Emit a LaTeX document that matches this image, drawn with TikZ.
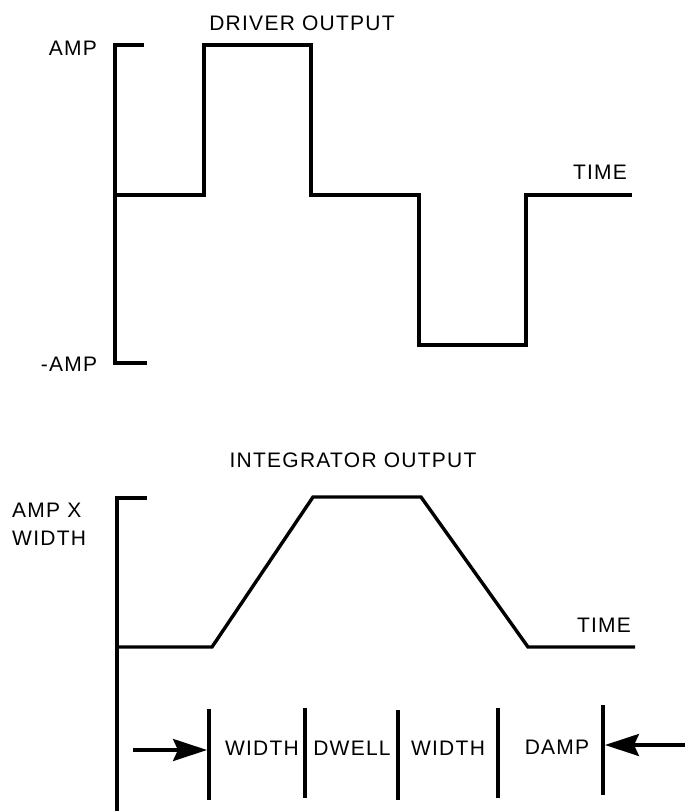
\documentclass[tikz,border=0pt]{standalone}
\usepackage{fontspec}
\setmainfont{Liberation Sans}[LetterSpace=6]
\usetikzlibrary{arrows.meta}
\begin{document}
\begin{tikzpicture}[x=1pt,y=-1pt,
  wave/.style={line width=3.4pt,line join=miter,line cap=butt},
  lbl/.style={font=\fontsize{21}{25}\selectfont,inner sep=0pt,anchor=center},
  divider/.style={line width=3.4pt},
  bigarrow/.style={line width=3.2pt,-{Stealth[length=34pt,width=22pt,inset=5pt]}}]
\useasboundingbox (0,0) rectangle (685,811);
% ---------- top: driver output ----------
\node[lbl] (t1) at (302,23) {DRIVER OUTPUT};
\node[lbl] (amp) at (73,48) {AMP};
\node[lbl] (namp) at (69,364) {-AMP};
\node[lbl] (time1) at (600,172) {TIME};
\draw[wave] (144,45) -- (115,45) -- (115,363) -- (147,363);
\draw[wave] (115,195) -- (204,195) -- (204,45) -- (311,45) -- (311,195)
  -- (419,195) -- (419,345) -- (526,345) -- (526,195) -- (632,195);
% ---------- bottom: integrator output ----------
\node[lbl] (t2) at (353,460) {INTEGRATOR OUTPUT};
\node[lbl,anchor=west] (ampx) at (12,510) {AMP X};
\node[lbl,anchor=west] (wid) at (12,538) {WIDTH};
\node[lbl] (time2) at (604,625) {TIME};
\draw[wave] (147,498) -- (117,498) -- (117,811);
\draw[wave] (117,647) -- (212,647) -- (313,497) -- (421,497) -- (528,647) -- (635,647);
% ---------- dividers and labels ----------
\coordinate (d1a) at (209,709); \coordinate (d1b) at (209,800);
\coordinate (d2a) at (305,708); \coordinate (d2b) at (305,798);
\coordinate (d3a) at (398,710); \coordinate (d3b) at (398,800);
\coordinate (d4a) at (498,708); \coordinate (d4b) at (498,798);
\coordinate (d5a) at (603,705); \coordinate (d5b) at (603,795);
\draw[divider] (d1a) -- (d1b);
\draw[divider] (d2a) -- (d2b);
\draw[divider] (d3a) -- (d3b);
\draw[divider] (d4a) -- (d4b);
\draw[divider] (d5a) -- (d5b);
\node[lbl] (w1) at (262,748) {WIDTH};
\node[lbl] (dw) at (352,748) {DWELL};
\node[lbl] (w2) at (448,748) {WIDTH};
\node[lbl] (dm) at (557,747) {DAMP};
\coordinate (la) at (133,750); \coordinate (lb) at (207,750);
\coordinate (ra) at (685,745); \coordinate (rb) at (605,745);
\draw[bigarrow] (la) -- (lb);
\draw[bigarrow] (ra) -- (rb);
\end{tikzpicture}
\end{document}
